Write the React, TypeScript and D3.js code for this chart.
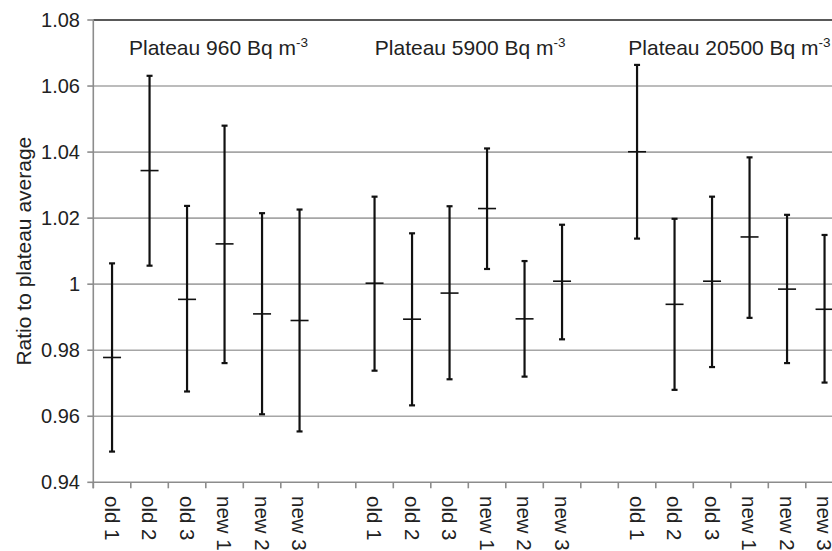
import React from "react";
import * as d3 from "d3";

const categories = ["old 1", "old 2", "old 3", "new 1", "new 2", "new 3"];
const groupNames = ["Plateau 960 Bq m", "Plateau 5900 Bq m", "Plateau 20500 Bq m"];
const groupSup = "-3";

const means960 = [0.9778, 1.0344, 0.9954, 1.0122, 0.991, 0.989];
const lows960 = [0.9493, 1.0056, 0.9675, 0.9761, 0.9606, 0.9554];
const highs960 = [1.0063, 1.0631, 1.0237, 1.048, 1.0215, 1.0226];

const means5900 = [1.0003, 0.9894, 0.9973, 1.0229, 0.9895, 1.0009];
const lows5900 = [0.9738, 0.9633, 0.9712, 1.0046, 0.972, 0.9833];
const highs5900 = [1.0265, 1.0154, 1.0236, 1.0411, 1.007, 1.018];

const means20500 = [1.0401, 0.9939, 1.0009, 1.0143, 0.9985, 0.9924];
const lows20500 = [1.0138, 0.968, 0.9749, 0.9898, 0.9761, 0.9702];
const highs20500 = [1.0664, 1.0198, 1.0265, 1.0384, 1.021, 1.0149];

const yTicks = [0.94, 0.96, 0.98, 1, 1.02, 1.04, 1.06, 1.08];
const yTickLabels = ["0.94", "0.96", "0.98", "1", "1.02", "1.04", "1.06", "1.08"];
const yTitle = "Ratio to plateau average";

const groupMeans = [means960, means5900, means20500];
const groupLows = [lows960, lows5900, lows20500];
const groupHighs = [highs960, highs5900, highs20500];

const W = 832;
const H = 551;
const FONT = "'Liberation Sans', Arial, Helvetica, sans-serif";
const left = 93.3;
const slotW = 37.5;
const nSlots = 20;
const top = 20;
const bottom = 482.3;
const titleOffsets = [35.7, 19, 10];

export default function App() {
  const slots = d3.range(nSlots).map(String);
  const x = d3.scaleBand<string>().domain(slots).range([left, left + slotW * nSlots]).paddingInner(0).paddingOuter(0);
  const y = d3.scaleLinear().domain([0.94, 1.08]).range([bottom, top]);

  const points: { slot: string; label: string; m: number; lo: number; hi: number }[] = [];
  groupMeans.forEach((ms, g) => {
    ms.forEach((m, i) => {
      points.push({ slot: String(g * 7 + i), label: categories[i], m, lo: groupLows[g][i], hi: groupHighs[g][i] });
    });
  });

  const xRight = left + slotW * nSlots;
  const grey = "#8c8c8c";
  const gridCol = "#a6a6a6";

  return (
    <svg
      width={W}
      height={H}
      style={{ position: "absolute", left: 0, top: 0, background: "#fff" }}
      fontFamily={FONT}
    >
      <rect x={0} y={0} width={W} height={H} fill="#fff" />
      {yTicks.map((t, i) =>
        i === 0 || i === yTicks.length - 1 ? null : (
          <line key={"g" + i} x1={left} x2={xRight} y1={y(t)} y2={y(t)} stroke={gridCol} strokeWidth={1.6} />
        )
      )}
      <line x1={left} x2={xRight} y1={y(1.08)} y2={y(1.08)} stroke="#222" strokeWidth={1.6} />
      <line x1={left} x2={xRight} y1={y(0.94)} y2={y(0.94)} stroke={grey} strokeWidth={1.6} />
      <line x1={left} x2={left} y1={y(1.08)} y2={y(0.94) + 6} stroke={grey} strokeWidth={1.6} />
      {yTicks.map((t, i) => (
        <g key={"yt" + i}>
          <line x1={left - 6} x2={left} y1={y(t)} y2={y(t)} stroke={grey} strokeWidth={1.6} />
          <text x={80} y={y(t)} textAnchor="end" dominantBaseline="central" fontSize={20} fill="#222">
            {yTickLabels[i]}
          </text>
        </g>
      ))}
      {d3.range(nSlots + 1).map((k) => (
        <line
          key={"xt" + k}
          x1={left + k * slotW}
          x2={left + k * slotW}
          y1={y(0.94)}
          y2={y(0.94) + 6}
          stroke={grey}
          strokeWidth={1.6}
        />
      ))}
      {points.map((p) => {
        const cx = (x(p.slot) as number) + x.bandwidth() / 2;
        return (
          <text
            key={"xl" + p.slot}
            transform={`translate(${cx},${496}) rotate(90)`}
            textAnchor="start"
            dominantBaseline="central"
            fontSize={20.5}
            fill="#222"
          >
            {p.label}
          </text>
        );
      })}
      <text
        transform={`translate(${23},${(top + bottom) / 2}) rotate(-90)`}
        textAnchor="middle"
        dominantBaseline="central"
        fontSize={21}
        fill="#222"
      >
        {yTitle}
      </text>
      {groupNames.map((n, g) => (
        <text key={"gt" + g} x={left + g * 7 * slotW + titleOffsets[g]} y={55} fontSize={21} fill="#222">
          {n}
          <tspan fontSize={13.5} dy={-8}>
            {groupSup}
          </tspan>
        </text>
      ))}
      {points.map((p) => {
        const cx = (x(p.slot) as number) + x.bandwidth() / 2;
        return (
          <g key={"eb" + p.slot} stroke="#111">
            <line x1={cx} x2={cx} y1={y(p.hi)} y2={y(p.lo)} strokeWidth={2.2} />
            <line x1={cx - 3} x2={cx + 3} y1={y(p.hi)} y2={y(p.hi)} strokeWidth={2.2} />
            <line x1={cx - 3} x2={cx + 3} y1={y(p.lo)} y2={y(p.lo)} strokeWidth={2.2} />
            <line x1={cx - 9} x2={cx + 9} y1={y(p.m)} y2={y(p.m)} strokeWidth={1.6} />
          </g>
        );
      })}
    </svg>
  );
}
